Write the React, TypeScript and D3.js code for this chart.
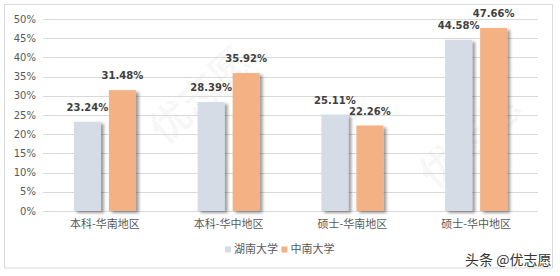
import React from "react";
import * as d3 from "d3";

const categories = ["本科-华南地区", "本科-华中地区", "硕士-华南地区", "硕士-华中地区"];
const seriesNames = ["湖南大学", "中南大学"];
const hunanValues = [23.24, 28.39, 25.11, 44.58];
const zhongnanValues = [31.48, 35.92, 22.26, 47.66];
const yTicks = [0, 5, 10, 15, 20, 25, 30, 35, 40, 45, 50];
const colors = ["#D6DCE5", "#F4B183"];

const W = 560;
const H = 276;
const plot = { left: 43, right: 538, top: 19, bottom: 211 };
const BAR_W = 27;
const BAR_GAP = 8;
const NUM_FONT = "'DejaVu Sans', Verdana, sans-serif";
const CJK_FONT = "'Noto Sans CJK SC', 'Noto Sans', sans-serif";

export default function App() {
  const x = d3.scaleBand<string>().domain(categories).range([plot.left, plot.right]);
  const y = d3.scaleLinear().domain([0, 50]).range([plot.bottom, plot.top]);
  const series = [hunanValues, zhongnanValues];
  const fmt = (v: number) => `${v.toFixed(2)}%`;

  const barX = (cat: string, si: number) => {
    const c = (x(cat) as number) + x.bandwidth() / 2;
    const total = BAR_W * 2 + BAR_GAP;
    return c - total / 2 + si * (BAR_W + BAR_GAP);
  };

  // faint diagonal brand marks behind the chart
  const marks = [
    { cx: 200, cy: 95 },
    { cx: 470, cy: 140 },
  ];

  return (
    <svg
      width={W}
      height={H}
      style={{ position: "absolute", left: 0, top: 0, background: "#fff" }}
    >
      <defs>
        <filter id="barShadow" x="-30%" y="-10%" width="160%" height="130%">
          <feDropShadow dx="3" dy="2" stdDeviation="1.6" floodColor="#000" floodOpacity="0.38" />
        </filter>
      </defs>
      <rect x={0} y={0} width={W} height={H} fill="#fff" />
      <rect x={4.5} y={4.5} width={548} height={263.5} fill="#fff" stroke="#D9D9D9" />

      {/* brand marks */}
      {marks.map((m, i) => (
        <text
          key={i}
          x={m.cx}
          y={m.cy}
          transform={`rotate(-42 ${m.cx} ${m.cy})`}
          textAnchor="middle"
          dy="0.36em"
          fontFamily={CJK_FONT}
          fontWeight="bold"
          fontSize={40}
          fill="#000"
          fillOpacity={0.035}
        >
          优志愿
        </text>
      ))}

      {/* gridlines and y labels */}
      {yTicks.map((t) => (
        <g key={t}>
          <line
            x1={plot.left}
            x2={plot.right}
            y1={Math.round(y(t)) + 0.5}
            y2={Math.round(y(t)) + 0.5}
            stroke="#D9D9D9"
          />
          <text
            x={36}
            y={y(t)}
            dy="0.36em"
            textAnchor="end"
            fontFamily={NUM_FONT}
            fontSize={10}
            fill="#595959"
          >
            {t}%
          </text>
        </g>
      ))}

      {/* bars */}
      {series.map((vals, si) =>
        categories.map((cat, ci) => (
          <rect
            key={`${si}-${ci}`}
            x={barX(cat, si)}
            y={y(vals[ci])}
            width={BAR_W}
            height={plot.bottom - y(vals[ci])}
            fill={colors[si]}
            filter="url(#barShadow)"
          />
        ))
      )}

      {/* data labels */}
      {series.map((vals, si) =>
        categories.map((cat, ci) => (
          <text
            key={`l-${si}-${ci}`}
            x={barX(cat, si) + BAR_W / 2}
            y={y(vals[ci]) - 11}
            textAnchor="middle"
            fontFamily={NUM_FONT}
            fontWeight="bold"
            fontSize={10}
            fill="#404040"
          >
            {fmt(vals[ci])}
          </text>
        ))
      )}

      {/* category labels */}
      {categories.map((cat) => (
        <text
          key={cat}
          x={(x(cat) as number) + x.bandwidth() / 2}
          y={224}
          dy="0.36em"
          textAnchor="middle"
          fontFamily={CJK_FONT}
          fontSize={11}
          fill="#595959"
        >
          {cat}
        </text>
      ))}

      {/* legend */}
      {seriesNames.map((name, i) => {
        const lx = i === 0 ? 225 : 281.5;
        return (
          <g key={name}>
            <rect x={lx} y={246.5} width={6} height={6} fill={colors[i]} />
            <text
              x={lx + 9}
              y={249.5}
              dy="0.36em"
              fontFamily={CJK_FONT}
              fontSize={11}
              fill="#595959"
            >
              {name}
            </text>
          </g>
        );
      })}

      <text
        x={465}
        y={260}
        dy="0.36em"
        fontFamily={CJK_FONT}
        fontSize={14}
        fill="#333"
      >
        头条 @优志愿
      </text>
    </svg>
  );
}
